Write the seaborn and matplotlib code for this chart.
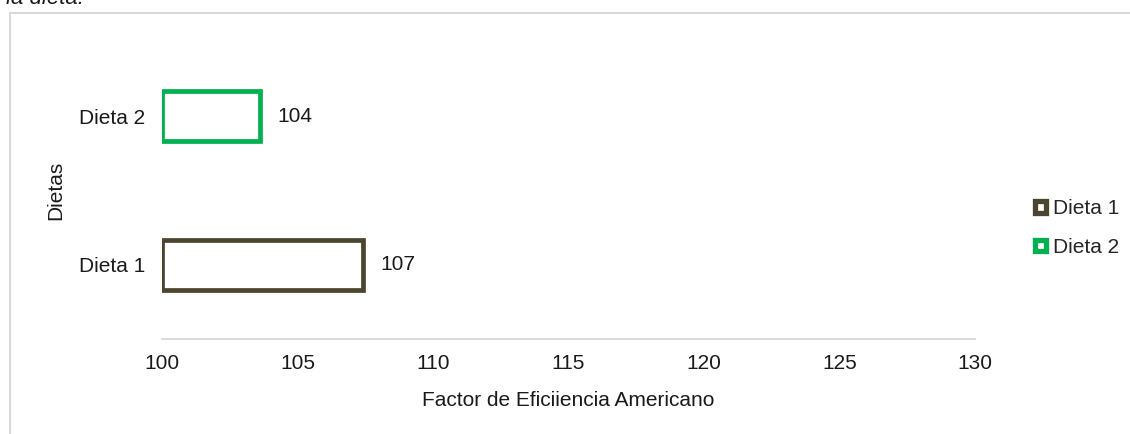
import matplotlib
matplotlib.use("Agg")
import matplotlib.pyplot as plt
from matplotlib.patches import Patch, Rectangle
import seaborn as sns
import pandas as pd

# data
dietas = ["Dieta 1", "Dieta 2"]
factor = [107.4, 103.6]
colores = ["#4b4530", "#00b050"]
base = 100
x_ticks = [100, 105, 110, 115, 120, 125, 130]

df = pd.DataFrame({"dieta": dietas, "factor": factor})
palette = dict(zip(dietas, colores))

sns.set_style("white")
plt.rcParams["font.family"] = ["Liberation Sans", "DejaVu Sans"]
plt.rcParams["font.size"] = 15

fig = plt.figure(figsize=(11.3, 4.34), dpi=100)
ax = fig.add_axes([162 / 1130, 1 - 339 / 434, (975 - 162) / 1130, (339 - 42) / 434])

order = ["Dieta 2", "Dieta 1"]
sns.barplot(data=df, x="factor", y="dieta", hue="dieta", order=order,
            hue_order=order, palette=palette, fill=False, width=0.34,
            linewidth=3.4, legend=False, ax=ax)

# excel draws the bars from the axis crossing (100), not from 0
for cont in ax.containers:
    for bar in cont:
        v = bar.get_width()
        bar.set_x(base)
        bar.set_width(v - base)
    ax.bar_label(cont, labels=["%.0f" % (b.get_x() + b.get_width()) for b in cont],
                 padding=13, fontsize=15, color="#1a1a1a")

ax.set_xlim(100, 130)
ax.set_xticks(x_ticks)
ax.set_xlabel("Factor de Eficiiencia Americano", labelpad=13, color="#1a1a1a")
ax.set_ylabel("Dietas", labelpad=10, color="#1a1a1a")
ax.tick_params(axis="both", length=0, colors="#1a1a1a", labelsize=15)
ax.tick_params(axis="y", pad=12)
ax.tick_params(axis="x", pad=11)
sns.despine(ax=ax, left=True)
ax.spines["bottom"].set_color("#d9d9d9")
ax.spines["bottom"].set_linewidth(1.3)

handles = [Patch(facecolor="white", edgecolor=c, linewidth=3.8, label=d)
           for d, c in zip(dietas, colores)]
fig.legend(handles=handles, loc="center left", bbox_to_anchor=(1025 / 1130, 1 - 228 / 434),
           frameon=False, handlelength=0.5, handleheight=0.5, handletextpad=0.35,
           labelspacing=0.95, borderpad=0, fontsize=15)

# chart border and clipped caption above it
fig.patches.append(Rectangle((9.5 / 1130, -0.05), 1.2, 1 - 13.5 / 434 + 0.05,
                             transform=fig.transFigure, fill=False,
                             edgecolor="#d9d9d9", linewidth=1.5))
fig.text(6 / 1130, 1 - 4 / 434, "la dieta.", style="italic", fontsize=16,
         va="baseline", ha="left", color="#1a1a1a")

fig.savefig("out.png", dpi=100)
